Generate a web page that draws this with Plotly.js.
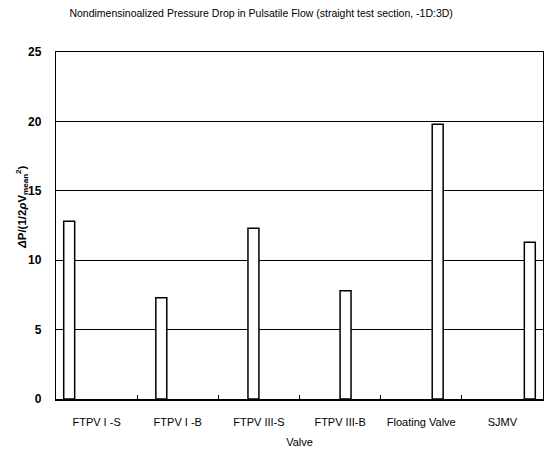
<!DOCTYPE html>
<html>
<head>
<meta charset="utf-8">
<script src="https://cdn.plot.ly/plotly-3.0.1.min.js"></script>
<style>html,body{margin:0;padding:0;background:#fff;}#chart{width:544px;height:453px;}</style>
</head>
<body>
<div id="chart"></div>
<script>
const categories = ["FTPV I -S", "FTPV I -B", "FTPV III-S", "FTPV III-B", "Floating Valve", "SJMV"];
const values = [12.8, 7.3, 12.3, 7.8, 19.8, 11.3];
const yTicks = [0, 5, 10, 15, 20, 25];
const yTitle = '<i>Δ</i>P/(1/2<i>ρ</i>V<sub>mean</sub><sup>2</sup>)';

const traces = categories.map((c, i) => ({
  type: 'bar',
  x: categories,
  y: categories.map((_, j) => (j === i ? values[i] : null)),
  name: c,
  marker: {color: '#ffffff', line: {color: '#000000', width: 1.5}},
  hoverinfo: 'x+y'
}));

const layout = {
  width: 544, height: 453,
  margin: {l: 56, r: 1, t: 52, b: 54},
  paper_bgcolor: '#fff', plot_bgcolor: '#fff',
  barmode: 'group', bargap: 0.19, bargroupgap: 0,
  showlegend: false,
  font: {family: 'Liberation Sans, Arial, sans-serif', color: '#000'},
  title: {
    text: 'Nondimensinoalized Pressure Drop in Pulsatile Flow (straight test section, -1D:3D)',
    font: {size: 10.5, color: '#000'}, x: 0.48, xanchor: 'center', y: 0.97, yanchor: 'middle'
  },
  xaxis: {
    type: 'category', range: [-0.5, 5.5],
    showline: true, linecolor: '#000', linewidth: 1.5, mirror: true,
    ticks: 'inside', ticklen: 4, tickcolor: '#000', tickson: 'boundaries',
    showgrid: false, zeroline: false, ticklabelstandoff: 12,
    tickfont: {size: 11, color: '#000'},
    title: {text: 'Valve', font: {size: 11, color: '#000'}, standoff: 11}
  },
  yaxis: {
    range: [0, 25], tickvals: yTicks, ticktext: yTicks.map(String),
    showline: true, linecolor: '#000', linewidth: 1.2, mirror: true,
    showgrid: true, gridcolor: '#000', gridwidth: 1,
    zeroline: false, ticks: '', ticklabelstandoff: 11,
    tickfont: {size: 12, color: '#000', weight: 'bold'}
  },
  annotations: [{
    text: yTitle, xref: 'paper', yref: 'paper',
    x: (22 - 56) / 487, y: (399 - 207) / 347,
    xanchor: 'center', yanchor: 'middle', textangle: -90, showarrow: false,
    font: {size: 11.5, color: '#000', weight: 'bold'}
  }]
};

Plotly.newPlot('chart', traces, layout, {displayModeBar: false, staticPlot: true});
</script>
</body>
</html>
